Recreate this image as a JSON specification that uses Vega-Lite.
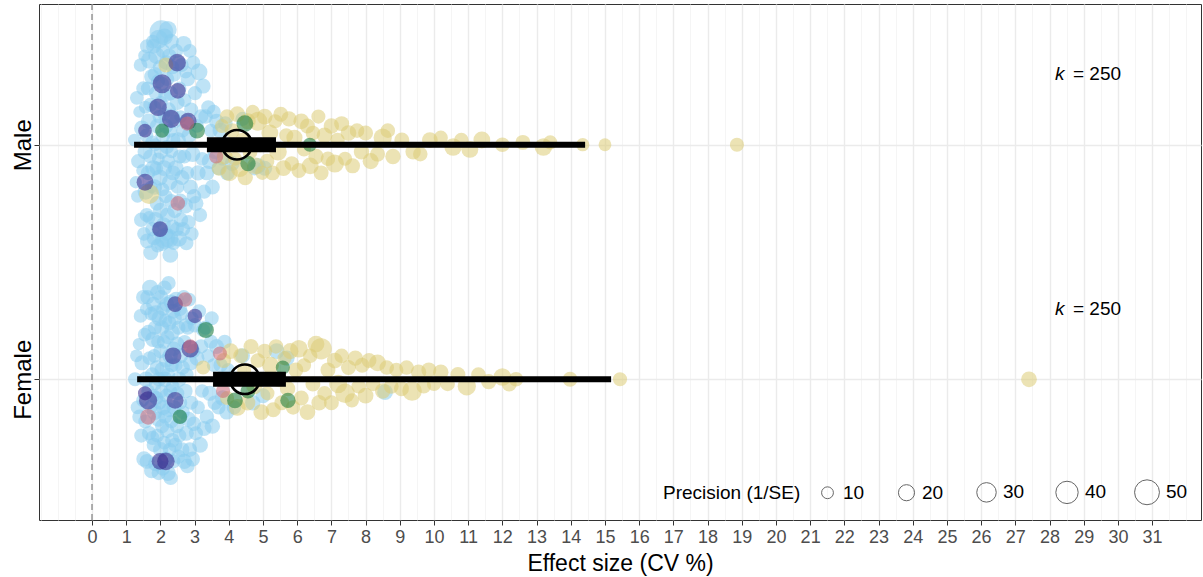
{
"$schema":"https://vega.github.io/schema/vega-lite/v6.json",
"width":1162,"height":516,
"autosize":{"type":"none"},
"padding":{"left":39,"top":4,"right":2,"bottom":57},
"background":"white",
"config":{"view":{"stroke":"#333333","strokeWidth":1},"font":"Liberation Sans"},
"resolve":{"axis":{"x":"independent"}},
"datasets":{
"zero":[{"x":0}],
"sum":[{"g":"Male","y":2,"est":4.24,"cil":3.36,"ciu":5.38,"pil":1.23,"piu":14.42},{"g":"Female","y":1,"est":4.47,"cil":3.54,"ciu":5.67,"pil":1.32,"piu":15.18}],
"klab":[{"x":28.16,"y":2.3,"lk":"k","lt":"= 250"},{"x":28.16,"y":1.3,"lk":"k","lt":"= 250"}],
"pts":[
{"x":1.24,"y":2.02,"p":12,"c":"b"},{"x":1.28,"y":1.84,"p":11,"c":"b"},{"x":1.31,"y":2.2,"p":14,"c":"b"},{"x":1.35,"y":1.93,"p":15,"c":"b"},{"x":1.38,"y":2.14,"p":10,"c":"b"},{"x":1.33,"y":1.78,"p":12,"c":"b"},
{"x":1.42,"y":2.34,"p":14,"c":"b"},{"x":1.44,"y":1.68,"p":16,"c":"b"},{"x":1.46,"y":2.07,"p":19,"c":"b"},{"x":1.48,"y":1.89,"p":12,"c":"b"},{"x":1.5,"y":2.24,"p":15,"c":"b"},{"x":1.52,"y":1.62,"p":14,"c":"b"},{"x":1.53,"y":2.38,"p":11,"c":"b"},{"x":1.55,"y":1.97,"p":17,"c":"b"},{"x":1.56,"y":2.16,"p":12,"c":"b"},{"x":1.57,"y":1.8,"p":20,"c":"b"},{"x":1.59,"y":2.04,"p":14,"c":"b"},{"x":1.6,"y":1.7,"p":15,"c":"b"},
{"x":1.61,"y":2.42,"p":15,"c":"b"},{"x":1.62,"y":1.59,"p":17,"c":"b"},{"x":1.63,"y":2.24,"p":14,"c":"b"},{"x":1.64,"y":1.88,"p":16,"c":"b"},{"x":1.66,"y":2.1,"p":19,"c":"b"},{"x":1.67,"y":1.69,"p":12,"c":"b"},{"x":1.68,"y":2.36,"p":22,"c":"b"},{"x":1.7,"y":1.95,"p":14,"c":"b"},{"x":1.71,"y":2.17,"p":15,"c":"b"},{"x":1.72,"y":1.54,"p":17,"c":"b"},{"x":1.73,"y":1.82,"p":12,"c":"b"},{"x":1.75,"y":2.29,"p":18,"c":"b"},{"x":1.76,"y":2.01,"p":14,"c":"b"},{"x":1.77,"y":1.64,"p":16,"c":"b"},{"x":1.78,"y":2.44,"p":14,"c":"b"},{"x":1.79,"y":1.9,"p":19,"c":"b"},
{"x":1.8,"y":2.42,"p":17,"c":"b"},{"x":1.81,"y":1.6,"p":15,"c":"b"},{"x":1.82,"y":2.16,"p":14,"c":"b"},{"x":1.83,"y":1.82,"p":18,"c":"b"},{"x":1.84,"y":2.3,"p":16,"c":"b"},{"x":1.85,"y":2.0,"p":12,"c":"b"},{"x":1.86,"y":1.68,"p":19,"c":"b"},{"x":1.87,"y":2.22,"p":15,"c":"b"},{"x":1.88,"y":1.9,"p":14,"c":"b"},{"x":1.89,"y":2.38,"p":22,"c":"b"},{"x":1.9,"y":1.75,"p":16,"c":"b"},{"x":1.91,"y":2.08,"p":17,"c":"b"},{"x":1.92,"y":1.57,"p":14,"c":"b"},{"x":1.93,"y":2.27,"p":15,"c":"b"},{"x":1.94,"y":1.94,"p":12,"c":"b"},{"x":1.95,"y":2.45,"p":28,"c":"b"},{"x":1.96,"y":1.64,"p":17,"c":"b"},{"x":1.97,"y":2.12,"p":14,"c":"b"},{"x":1.98,"y":1.86,"p":20,"c":"b"},{"x":1.99,"y":2.33,"p":16,"c":"b"},
{"x":2.0,"y":1.72,"p":18,"c":"b"},{"x":2.01,"y":2.18,"p":14,"c":"b"},{"x":2.02,"y":1.97,"p":16,"c":"b"},{"x":2.03,"y":2.48,"p":45,"c":"b"},{"x":2.04,"y":1.58,"p":19,"c":"b"},{"x":2.05,"y":2.26,"p":15,"c":"b"},{"x":2.06,"y":1.81,"p":14,"c":"b"},{"x":2.07,"y":2.04,"p":17,"c":"b"},{"x":2.08,"y":2.4,"p":15,"c":"b"},{"x":2.09,"y":1.66,"p":16,"c":"b"},{"x":2.1,"y":2.13,"p":12,"c":"b"},{"x":2.11,"y":1.9,"p":19,"c":"b"},{"x":2.12,"y":2.46,"p":22,"c":"b"},{"x":2.13,"y":1.6,"p":34,"c":"b"},{"x":2.14,"y":2.21,"p":14,"c":"b"},{"x":2.15,"y":1.78,"p":15,"c":"b"},{"x":2.16,"y":2.08,"p":17,"c":"b"},{"x":2.17,"y":2.35,"p":16,"c":"b"},{"x":2.18,"y":1.62,"p":14,"c":"b"},{"x":2.19,"y":1.99,"p":15,"c":"b"},
{"x":2.2,"y":2.28,"p":15,"c":"b"},{"x":2.21,"y":1.7,"p":17,"c":"b"},{"x":2.22,"y":2.49,"p":24,"c":"b"},{"x":2.23,"y":1.93,"p":14,"c":"b"},{"x":2.24,"y":2.15,"p":16,"c":"b"},{"x":2.25,"y":1.6,"p":28,"c":"b"},{"x":2.26,"y":2.38,"p":15,"c":"b"},{"x":2.27,"y":1.84,"p":18,"c":"b"},{"x":2.28,"y":2.06,"p":14,"c":"b"},{"x":2.29,"y":1.53,"p":19,"c":"b"},{"x":2.3,"y":2.22,"p":16,"c":"b"},{"x":2.31,"y":1.76,"p":15,"c":"b"},{"x":2.32,"y":2.44,"p":17,"c":"b"},{"x":2.33,"y":1.97,"p":12,"c":"b"},{"x":2.34,"y":2.12,"p":20,"c":"b"},{"x":2.35,"y":1.65,"p":16,"c":"b"},{"x":2.36,"y":2.33,"p":14,"c":"b"},{"x":2.37,"y":1.88,"p":17,"c":"b"},{"x":2.38,"y":2.02,"p":15,"c":"b"},{"x":2.39,"y":1.58,"p":14,"c":"b"},
{"x":2.4,"y":2.3,"p":16,"c":"b"},{"x":2.42,"y":1.72,"p":17,"c":"b"},{"x":2.43,"y":2.1,"p":14,"c":"b"},{"x":2.45,"y":1.9,"p":19,"c":"b"},{"x":2.46,"y":2.4,"p":15,"c":"b"},{"x":2.48,"y":1.64,"p":15,"c":"b"},{"x":2.49,"y":2.18,"p":17,"c":"b"},{"x":2.5,"y":1.82,"p":14,"c":"b"},{"x":2.52,"y":2.02,"p":18,"c":"b"},{"x":2.53,"y":2.35,"p":16,"c":"b"},{"x":2.54,"y":1.6,"p":20,"c":"b"},{"x":2.56,"y":2.24,"p":14,"c":"b"},{"x":2.57,"y":1.95,"p":15,"c":"b"},{"x":2.58,"y":1.76,"p":17,"c":"b"},{"x":2.59,"y":2.12,"p":12,"c":"b"},{"x":2.6,"y":1.68,"p":16,"c":"b"},
{"x":2.62,"y":2.34,"p":15,"c":"b"},{"x":2.63,"y":1.86,"p":17,"c":"b"},{"x":2.65,"y":2.06,"p":14,"c":"b"},{"x":2.66,"y":1.64,"p":16,"c":"b"},{"x":2.68,"y":2.43,"p":19,"c":"b"},{"x":2.7,"y":1.95,"p":15,"c":"b"},{"x":2.71,"y":2.19,"p":14,"c":"b"},{"x":2.73,"y":1.74,"p":18,"c":"b"},{"x":2.74,"y":2.31,"p":12,"c":"b"},{"x":2.76,"y":1.58,"p":15,"c":"b"},{"x":2.77,"y":2.1,"p":17,"c":"b"},{"x":2.79,"y":1.88,"p":14,"c":"b"},
{"x":2.8,"y":2.28,"p":16,"c":"b"},{"x":2.82,"y":1.67,"p":15,"c":"b"},{"x":2.84,"y":2.04,"p":18,"c":"b"},{"x":2.86,"y":2.4,"p":14,"c":"b"},{"x":2.88,"y":1.82,"p":17,"c":"b"},{"x":2.9,"y":2.15,"p":15,"c":"b"},{"x":2.92,"y":1.62,"p":14,"c":"b"},{"x":2.94,"y":1.96,"p":19,"c":"b"},{"x":2.96,"y":2.35,"p":15,"c":"b"},{"x":2.98,"y":1.78,"p":16,"c":"b"},
{"x":3.01,"y":2.22,"p":15,"c":"b"},{"x":3.04,"y":1.75,"p":17,"c":"b"},{"x":3.07,"y":2.08,"p":14,"c":"b"},{"x":3.1,"y":1.88,"p":18,"c":"b"},{"x":3.13,"y":2.31,"p":22,"c":"b"},{"x":3.16,"y":1.7,"p":15,"c":"b"},{"x":3.19,"y":2.12,"p":16,"c":"b"},{"x":3.22,"y":1.94,"p":14,"c":"b"},{"x":3.25,"y":2.25,"p":17,"c":"b"},{"x":3.28,"y":1.8,"p":15,"c":"b"},
{"x":3.32,"y":2.12,"p":16,"c":"b"},{"x":3.36,"y":1.88,"p":17,"c":"b"},{"x":3.4,"y":2.16,"p":15,"c":"b"},{"x":3.44,"y":1.93,"p":19,"c":"b"},{"x":3.48,"y":2.06,"p":14,"c":"b"},{"x":3.52,"y":1.82,"p":17,"c":"b"},{"x":3.56,"y":2.14,"p":15,"c":"b"},{"x":3.59,"y":1.97,"p":16,"c":"b"},
{"x":3.64,"y":2.1,"p":17,"c":"b"},{"x":3.7,"y":1.9,"p":15,"c":"b"},{"x":3.76,"y":2.06,"p":19,"c":"b"},{"x":3.82,"y":1.94,"p":14,"c":"b"},{"x":3.9,"y":2.09,"p":16,"c":"b"},{"x":3.96,"y":1.88,"p":17,"c":"b"},
{"x":4.1,"y":1.92,"p":17,"c":"b"},{"x":4.4,"y":2.11,"p":15,"c":"b"},{"x":4.75,"y":1.9,"p":16,"c":"b"},{"x":4.85,"y":1.91,"p":19,"c":"b"},{"x":5.05,"y":1.9,"p":17,"c":"b"},
{"x":1.26,"y":1.0,"p":15,"c":"b"},{"x":1.3,"y":1.1,"p":12,"c":"b"},{"x":1.33,"y":0.88,"p":14,"c":"b"},{"x":1.37,"y":1.15,"p":11,"c":"b"},{"x":1.39,"y":0.84,"p":16,"c":"b"},
{"x":1.42,"y":1.27,"p":14,"c":"b"},{"x":1.44,"y":0.76,"p":15,"c":"b"},{"x":1.46,"y":1.07,"p":17,"c":"b"},{"x":1.48,"y":0.91,"p":12,"c":"b"},{"x":1.5,"y":1.35,"p":16,"c":"b"},{"x":1.52,"y":0.66,"p":18,"c":"b"},{"x":1.54,"y":1.19,"p":14,"c":"b"},{"x":1.56,"y":0.82,"p":15,"c":"b"},{"x":1.58,"y":1.0,"p":19,"c":"b"},{"x":1.59,"y":1.3,"p":12,"c":"b"},
{"x":1.61,"y":0.65,"p":17,"c":"b"},{"x":1.62,"y":1.35,"p":15,"c":"b"},{"x":1.64,"y":0.95,"p":14,"c":"b"},{"x":1.65,"y":1.2,"p":18,"c":"b"},{"x":1.67,"y":0.77,"p":16,"c":"b"},{"x":1.68,"y":1.09,"p":14,"c":"b"},{"x":1.7,"y":1.39,"p":20,"c":"b"},{"x":1.71,"y":0.88,"p":15,"c":"b"},{"x":1.73,"y":1.28,"p":14,"c":"b"},{"x":1.74,"y":0.61,"p":17,"c":"b"},{"x":1.76,"y":1.02,"p":16,"c":"b"},{"x":1.77,"y":0.75,"p":15,"c":"b"},{"x":1.78,"y":1.17,"p":18,"c":"b"},{"x":1.79,"y":0.93,"p":14,"c":"b"},
{"x":1.8,"y":1.32,"p":17,"c":"b"},{"x":1.81,"y":0.72,"p":16,"c":"b"},{"x":1.82,"y":1.1,"p":14,"c":"b"},{"x":1.83,"y":0.86,"p":19,"c":"b"},{"x":1.84,"y":1.22,"p":15,"c":"b"},{"x":1.85,"y":0.98,"p":12,"c":"b"},{"x":1.86,"y":0.64,"p":17,"c":"b"},{"x":1.87,"y":1.28,"p":22,"c":"b"},{"x":1.88,"y":0.92,"p":15,"c":"b"},{"x":1.9,"y":1.05,"p":16,"c":"b"},{"x":1.91,"y":0.76,"p":14,"c":"b"},{"x":1.92,"y":1.37,"p":17,"c":"b"},{"x":1.93,"y":1.16,"p":14,"c":"b"},{"x":1.94,"y":0.83,"p":18,"c":"b"},{"x":1.95,"y":0.6,"p":15,"c":"b"},{"x":1.96,"y":1.0,"p":16,"c":"b"},{"x":1.97,"y":1.26,"p":19,"c":"b"},{"x":1.98,"y":0.9,"p":14,"c":"b"},
{"x":2.0,"y":1.12,"p":15,"c":"b"},{"x":2.01,"y":0.7,"p":18,"c":"b"},{"x":2.02,"y":1.35,"p":16,"c":"b"},{"x":2.03,"y":0.95,"p":14,"c":"b"},{"x":2.04,"y":1.22,"p":17,"c":"b"},{"x":2.05,"y":0.8,"p":15,"c":"b"},{"x":2.06,"y":1.04,"p":19,"c":"b"},{"x":2.07,"y":0.62,"p":16,"c":"b"},{"x":2.08,"y":1.3,"p":14,"c":"b"},{"x":2.09,"y":0.88,"p":17,"c":"b"},{"x":2.1,"y":1.16,"p":15,"c":"b"},{"x":2.11,"y":0.73,"p":14,"c":"b"},{"x":2.12,"y":1.39,"p":16,"c":"b"},{"x":2.13,"y":1.0,"p":18,"c":"b"},{"x":2.14,"y":0.84,"p":15,"c":"b"},{"x":2.15,"y":1.25,"p":14,"c":"b"},{"x":2.16,"y":0.66,"p":17,"c":"b"},{"x":2.17,"y":1.08,"p":16,"c":"b"},{"x":2.18,"y":0.93,"p":15,"c":"b"},{"x":2.19,"y":1.32,"p":17,"c":"b"},
{"x":2.2,"y":0.78,"p":16,"c":"b"},{"x":2.21,"y":1.18,"p":15,"c":"b"},{"x":2.22,"y":0.6,"p":19,"c":"b"},{"x":2.23,"y":1.02,"p":14,"c":"b"},{"x":2.24,"y":1.41,"p":15,"c":"b"},{"x":2.25,"y":0.87,"p":17,"c":"b"},{"x":2.26,"y":1.24,"p":16,"c":"b"},{"x":2.27,"y":0.7,"p":14,"c":"b"},{"x":2.28,"y":1.1,"p":18,"c":"b"},{"x":2.29,"y":0.95,"p":15,"c":"b"},{"x":2.3,"y":0.58,"p":16,"c":"b"},{"x":2.31,"y":1.33,"p":17,"c":"b"},{"x":2.32,"y":0.82,"p":14,"c":"b"},{"x":2.33,"y":1.06,"p":15,"c":"b"},{"x":2.34,"y":1.2,"p":19,"c":"b"},{"x":2.35,"y":0.74,"p":16,"c":"b"},{"x":2.36,"y":0.97,"p":14,"c":"b"},{"x":2.37,"y":1.29,"p":17,"c":"b"},{"x":2.38,"y":0.65,"p":15,"c":"b"},{"x":2.39,"y":1.13,"p":16,"c":"b"},
{"x":2.4,"y":0.88,"p":17,"c":"b"},{"x":2.42,"y":1.26,"p":15,"c":"b"},{"x":2.43,"y":0.72,"p":16,"c":"b"},{"x":2.45,"y":1.06,"p":14,"c":"b"},{"x":2.46,"y":1.34,"p":18,"c":"b"},{"x":2.48,"y":0.8,"p":15,"c":"b"},{"x":2.49,"y":1.15,"p":17,"c":"b"},{"x":2.5,"y":0.94,"p":14,"c":"b"},{"x":2.52,"y":0.67,"p":16,"c":"b"},{"x":2.53,"y":1.22,"p":15,"c":"b"},{"x":2.54,"y":1.0,"p":19,"c":"b"},{"x":2.56,"y":0.76,"p":14,"c":"b"},{"x":2.57,"y":1.3,"p":16,"c":"b"},{"x":2.58,"y":0.9,"p":15,"c":"b"},{"x":2.59,"y":1.1,"p":17,"c":"b"},{"x":2.6,"y":0.84,"p":14,"c":"b"},
{"x":2.62,"y":1.28,"p":15,"c":"b"},{"x":2.63,"y":0.7,"p":17,"c":"b"},{"x":2.65,"y":1.05,"p":16,"c":"b"},{"x":2.66,"y":0.86,"p":14,"c":"b"},{"x":2.68,"y":1.35,"p":15,"c":"b"},{"x":2.7,"y":0.65,"p":18,"c":"b"},{"x":2.71,"y":1.16,"p":14,"c":"b"},{"x":2.73,"y":0.95,"p":16,"c":"b"},{"x":2.74,"y":1.23,"p":15,"c":"b"},{"x":2.76,"y":0.77,"p":17,"c":"b"},{"x":2.77,"y":1.02,"p":14,"c":"b"},{"x":2.79,"y":0.63,"p":16,"c":"b"},
{"x":2.8,"y":1.22,"p":15,"c":"b"},{"x":2.82,"y":0.83,"p":17,"c":"b"},{"x":2.84,"y":1.34,"p":14,"c":"b"},{"x":2.86,"y":0.7,"p":16,"c":"b"},{"x":2.88,"y":1.07,"p":18,"c":"b"},{"x":2.9,"y":0.9,"p":15,"c":"b"},{"x":2.92,"y":1.26,"p":14,"c":"b"},{"x":2.94,"y":0.66,"p":17,"c":"b"},{"x":2.96,"y":1.12,"p":15,"c":"b"},{"x":2.98,"y":0.81,"p":16,"c":"b"},
{"x":3.01,"y":1.23,"p":16,"c":"b"},{"x":3.04,"y":0.77,"p":15,"c":"b"},{"x":3.07,"y":1.09,"p":17,"c":"b"},{"x":3.1,"y":0.88,"p":14,"c":"b"},{"x":3.13,"y":1.29,"p":15,"c":"b"},{"x":3.16,"y":0.72,"p":19,"c":"b"},{"x":3.19,"y":1.14,"p":16,"c":"b"},{"x":3.22,"y":0.95,"p":14,"c":"b"},{"x":3.25,"y":1.21,"p":15,"c":"b"},{"x":3.28,"y":0.79,"p":17,"c":"b"},
{"x":3.32,"y":1.22,"p":15,"c":"b"},{"x":3.36,"y":0.84,"p":16,"c":"b"},{"x":3.4,"y":1.1,"p":14,"c":"b"},{"x":3.44,"y":0.94,"p":17,"c":"b"},{"x":3.48,"y":1.16,"p":15,"c":"b"},{"x":3.52,"y":0.8,"p":18,"c":"b"},{"x":3.56,"y":1.06,"p":14,"c":"b"},{"x":3.59,"y":0.9,"p":16,"c":"b"},{"x":3.5,"y":1.26,"p":15,"c":"b"},
{"x":3.64,"y":1.14,"p":17,"c":"b"},{"x":3.7,"y":0.88,"p":15,"c":"b"},{"x":3.76,"y":1.06,"p":16,"c":"b"},{"x":3.82,"y":0.92,"p":18,"c":"b"},{"x":3.88,"y":1.16,"p":15,"c":"b"},{"x":3.94,"y":0.86,"p":17,"c":"b"},{"x":3.98,"y":1.04,"p":14,"c":"b"},
{"x":4.15,"y":0.88,"p":16,"c":"b"},{"x":4.4,"y":1.1,"p":17,"c":"b"},{"x":4.7,"y":0.9,"p":18,"c":"b"},{"x":5.0,"y":0.93,"p":17,"c":"b"},{"x":5.4,"y":1.12,"p":19,"c":"b"},{"x":5.7,"y":1.09,"p":18,"c":"b"},{"x":8.57,"y":0.945,"p":19,"c":"b"},
{"x":1.67,"y":1.79,"p":32,"c":"y"},{"x":2.16,"y":2.34,"p":17,"c":"y"},
{"x":3.72,"y":1.9,"p":17,"c":"y"},{"x":3.8,"y":2.08,"p":15,"c":"y"},{"x":3.88,"y":1.95,"p":19,"c":"y"},{"x":3.95,"y":2.12,"p":16,"c":"y"},
{"x":4.02,"y":1.88,"p":22,"c":"y"},{"x":4.1,"y":2.06,"p":17,"c":"y"},{"x":4.18,"y":1.94,"p":15,"c":"y"},{"x":4.25,"y":2.13,"p":19,"c":"y"},{"x":4.32,"y":1.9,"p":24,"c":"y"},{"x":4.4,"y":2.02,"p":16,"c":"y"},{"x":4.48,"y":1.86,"p":18,"c":"y"},{"x":4.55,"y":2.1,"p":20,"c":"y"},{"x":4.62,"y":1.97,"p":17,"c":"y"},{"x":4.7,"y":2.14,"p":15,"c":"y"},{"x":4.78,"y":1.91,"p":22,"c":"y"},{"x":4.85,"y":2.1,"p":28,"c":"y"},{"x":4.92,"y":2.0,"p":17,"c":"y"},{"x":4.98,"y":1.88,"p":15,"c":"y"},
{"x":5.05,"y":2.12,"p":19,"c":"y"},{"x":5.12,"y":1.93,"p":16,"c":"y"},{"x":5.2,"y":2.05,"p":22,"c":"y"},{"x":5.28,"y":1.88,"p":17,"c":"y"},{"x":5.36,"y":2.1,"p":15,"c":"y"},{"x":5.44,"y":1.97,"p":24,"c":"y"},{"x":5.52,"y":2.13,"p":17,"c":"y"},{"x":5.6,"y":1.9,"p":19,"c":"y"},{"x":5.68,"y":2.04,"p":15,"c":"y"},{"x":5.76,"y":2.11,"p":18,"c":"y"},{"x":5.84,"y":1.92,"p":16,"c":"y"},{"x":5.92,"y":2.03,"p":20,"c":"y"},
{"x":6.05,"y":1.89,"p":17,"c":"y"},{"x":6.12,"y":2.1,"p":19,"c":"y"},{"x":6.2,"y":1.98,"p":15,"c":"y"},{"x":6.3,"y":2.08,"p":17,"c":"y"},{"x":6.38,"y":1.91,"p":22,"c":"y"},{"x":6.46,"y":2.05,"p":16,"c":"y"},{"x":6.55,"y":1.95,"p":18,"c":"y"},{"x":6.62,"y":2.12,"p":15,"c":"y"},{"x":6.7,"y":1.88,"p":17,"c":"y"},{"x":6.8,"y":2.04,"p":19,"c":"y"},{"x":6.9,"y":1.94,"p":16,"c":"y"},
{"x":7.0,"y":2.08,"p":18,"c":"y"},{"x":7.1,"y":1.92,"p":26,"c":"y"},{"x":7.18,"y":2.02,"p":16,"c":"y"},{"x":7.3,"y":2.09,"p":17,"c":"y"},{"x":7.4,"y":1.94,"p":15,"c":"y"},{"x":7.5,"y":2.05,"p":19,"c":"y"},{"x":7.62,"y":1.91,"p":17,"c":"y"},{"x":7.75,"y":2.06,"p":16,"c":"y"},{"x":7.88,"y":1.97,"p":18,"c":"y"},
{"x":8.0,"y":2.05,"p":17,"c":"y"},{"x":8.15,"y":1.93,"p":20,"c":"y"},{"x":8.35,"y":1.96,"p":17,"c":"y"},{"x":8.5,"y":2.03,"p":26,"c":"y"},{"x":8.65,"y":2.06,"p":16,"c":"y"},{"x":8.8,"y":1.95,"p":18,"c":"y"},
{"x":9.06,"y":2.02,"p":17,"c":"y"},{"x":9.39,"y":1.97,"p":18,"c":"y"},{"x":9.6,"y":1.96,"p":16,"c":"y"},{"x":9.88,"y":2.02,"p":19,"c":"y"},{"x":10.2,"y":2.03,"p":15,"c":"y"},{"x":10.56,"y":1.99,"p":24,"c":"y"},{"x":10.8,"y":2.02,"p":16,"c":"y"},
{"x":11.05,"y":1.98,"p":22,"c":"y"},{"x":11.4,"y":2.02,"p":22,"c":"y"},{"x":12.0,"y":2.0,"p":16,"c":"y"},{"x":12.6,"y":2.01,"p":17,"c":"y"},{"x":13.2,"y":1.99,"p":24,"c":"y"},{"x":13.4,"y":2.01,"p":15,"c":"y"},{"x":14.35,"y":2.0,"p":13,"c":"y"},{"x":15.0,"y":2.0,"p":12,"c":"y"},{"x":18.86,"y":2.0,"p":15,"c":"y"},
{"x":3.25,"y":1.05,"p":15,"c":"y"},
{"x":3.85,"y":1.08,"p":17,"c":"y"},{"x":3.95,"y":0.92,"p":15,"c":"y"},{"x":4.05,"y":1.12,"p":19,"c":"y"},{"x":4.15,"y":1.0,"p":16,"c":"y"},{"x":4.25,"y":0.88,"p":22,"c":"y"},{"x":4.35,"y":1.1,"p":17,"c":"y"},{"x":4.45,"y":1.04,"p":15,"c":"y"},{"x":4.55,"y":0.9,"p":18,"c":"y"},{"x":4.65,"y":1.14,"p":17,"c":"y"},{"x":4.75,"y":0.97,"p":20,"c":"y"},{"x":4.85,"y":1.08,"p":16,"c":"y"},{"x":4.95,"y":0.86,"p":19,"c":"y"},
{"x":5.05,"y":1.12,"p":17,"c":"y"},{"x":5.13,"y":0.94,"p":15,"c":"y"},{"x":5.22,"y":1.06,"p":22,"c":"y"},{"x":5.3,"y":0.87,"p":17,"c":"y"},{"x":5.38,"y":1.14,"p":16,"c":"y"},{"x":5.47,"y":1.0,"p":19,"c":"y"},{"x":5.55,"y":0.9,"p":17,"c":"y"},{"x":5.63,"y":1.09,"p":15,"c":"y"},{"x":5.72,"y":0.96,"p":18,"c":"y"},{"x":5.8,"y":1.12,"p":20,"c":"y"},{"x":5.88,"y":0.88,"p":16,"c":"y"},{"x":5.96,"y":1.04,"p":17,"c":"y"},
{"x":6.05,"y":1.13,"p":24,"c":"y"},{"x":6.12,"y":0.92,"p":17,"c":"y"},{"x":6.2,"y":1.06,"p":15,"c":"y"},{"x":6.3,"y":0.86,"p":19,"c":"y"},{"x":6.38,"y":1.1,"p":16,"c":"y"},{"x":6.46,"y":0.98,"p":17,"c":"y"},{"x":6.55,"y":1.15,"p":22,"c":"y"},{"x":6.64,"y":0.9,"p":18,"c":"y"},{"x":6.7,"y":1.13,"p":36,"c":"y"},{"x":6.8,"y":0.94,"p":16,"c":"y"},{"x":6.9,"y":1.04,"p":17,"c":"y"},
{"x":7.0,"y":0.9,"p":17,"c":"y"},{"x":7.1,"y":1.08,"p":19,"c":"y"},{"x":7.2,"y":0.98,"p":26,"c":"y"},{"x":7.3,"y":1.1,"p":16,"c":"y"},{"x":7.4,"y":0.94,"p":30,"c":"y"},{"x":7.5,"y":1.05,"p":17,"c":"y"},{"x":7.6,"y":0.91,"p":15,"c":"y"},{"x":7.7,"y":1.09,"p":18,"c":"y"},{"x":7.8,"y":0.97,"p":16,"c":"y"},{"x":7.9,"y":1.06,"p":17,"c":"y"},
{"x":8.0,"y":0.93,"p":19,"c":"y"},{"x":8.1,"y":1.08,"p":17,"c":"y"},{"x":8.22,"y":0.98,"p":16,"c":"y"},{"x":8.35,"y":1.07,"p":22,"c":"y"},{"x":8.5,"y":0.95,"p":18,"c":"y"},{"x":8.62,"y":1.05,"p":16,"c":"y"},{"x":8.75,"y":0.97,"p":17,"c":"y"},{"x":8.9,"y":1.04,"p":15,"c":"y"},
{"x":9.05,"y":0.96,"p":17,"c":"y"},{"x":9.2,"y":1.05,"p":16,"c":"y"},{"x":9.36,"y":0.95,"p":30,"c":"y"},{"x":9.55,"y":1.03,"p":18,"c":"y"},{"x":9.7,"y":0.97,"p":16,"c":"y"},{"x":9.85,"y":1.04,"p":17,"c":"y"},{"x":10.0,"y":0.98,"p":15,"c":"y"},{"x":10.2,"y":1.03,"p":18,"c":"y"},{"x":10.4,"y":0.98,"p":16,"c":"y"},
{"x":10.7,"y":1.02,"p":17,"c":"y"},{"x":10.96,"y":0.97,"p":26,"c":"y"},{"x":11.3,"y":1.02,"p":16,"c":"y"},{"x":11.6,"y":0.99,"p":18,"c":"y"},{"x":12.0,"y":1.01,"p":24,"c":"y"},{"x":12.2,"y":0.98,"p":17,"c":"y"},{"x":12.4,"y":1.0,"p":16,"c":"y"},
{"x":13.98,"y":1.0,"p":17,"c":"y"},{"x":15.44,"y":1.0,"p":15,"c":"y"},{"x":27.4,"y":1.0,"p":19,"c":"y"},
{"x":2.49,"y":2.35,"p":24,"c":"u"},{"x":2.05,"y":2.26,"p":28,"c":"u"},{"x":2.51,"y":2.23,"p":19,"c":"u"},{"x":1.93,"y":2.16,"p":24,"c":"u"},{"x":2.31,"y":2.11,"p":26,"c":"u"},{"x":2.81,"y":2.1,"p":22,"c":"u"},{"x":1.55,"y":2.06,"p":14,"c":"u"},{"x":1.55,"y":1.84,"p":22,"c":"u"},{"x":1.99,"y":1.64,"p":19,"c":"u"},
{"x":2.43,"y":1.32,"p":19,"c":"u"},{"x":3.01,"y":1.27,"p":16,"c":"u"},{"x":2.37,"y":1.1,"p":22,"c":"u"},{"x":2.87,"y":1.13,"p":24,"c":"u"},{"x":1.55,"y":0.94,"p":15,"c":"u"},{"x":1.64,"y":0.91,"p":26,"c":"u"},{"x":2.43,"y":0.91,"p":22,"c":"u"},{"x":1.99,"y":0.65,"p":22,"c":"u"},{"x":2.16,"y":0.65,"p":24,"c":"u"},
{"x":3.07,"y":2.06,"p":19,"c":"g"},{"x":2.05,"y":2.06,"p":15,"c":"g"},{"x":4.47,"y":2.09,"p":22,"c":"g"},{"x":4.56,"y":1.92,"p":18,"c":"g"},{"x":6.37,"y":2.0,"p":15,"c":"g"},
{"x":3.33,"y":1.21,"p":20,"c":"g"},{"x":2.57,"y":0.84,"p":16,"c":"g"},{"x":4.18,"y":0.91,"p":19,"c":"g"},{"x":5.73,"y":0.91,"p":18,"c":"g"},{"x":5.58,"y":1.05,"p":15,"c":"g"},{"x":4.56,"y":0.95,"p":17,"c":"g"},
{"x":2.51,"y":1.75,"p":16,"c":"r"},{"x":3.63,"y":1.95,"p":15,"c":"r"},{"x":2.78,"y":2.09,"p":15,"c":"r"},
{"x":2.72,"y":1.34,"p":16,"c":"r"},{"x":1.64,"y":0.84,"p":19,"c":"r"},{"x":3.74,"y":1.11,"p":15,"c":"r"},{"x":3.83,"y":0.95,"p":15,"c":"r"},{"x":2.87,"y":1.14,"p":15,"c":"r"}
]},
"layer":[
{"data":{"name":"zero"},"mark":{"type":"rule","color":"#7F7F7F","strokeDash":[6,4],"strokeWidth":1.2},
 "encoding":{"x":{"field":"x","type":"quantitative","scale":{"domain":[-1.55,32.43],"nice":false,"zero":false},
  "axis":{"orient":"top","title":null,"labels":false,"ticks":false,"domain":false,"grid":true,"gridColor":"#F3F3F3","gridWidth":0.8,
   "values":[-1.5,-1,-0.5,0.5,1.5,2.5,3.5,4.5,5.5,6.5,7.5,8.5,9.5,10.5,11.5,12.5,13.5,14.5,15.5,16.5,17.5,18.5,19.5,20.5,21.5,22.5,23.5,24.5,25.5,26.5,27.5,28.5,29.5,30.5,31.5,32]}}}},
{"data":{"name":"pts"},
 "mark":{"type":"circle","opacity":0.55},
 "encoding":{
  "x":{"field":"x","type":"quantitative",
   "axis":{"orient":"bottom","title":"Effect size (CV %)","titleFontSize":23,"titleFontWeight":"normal","titleColor":"black","titlePadding":6,
    "values":[0,1,2,3,4,5,6,7,8,9,10,11,12,13,14,15,16,17,18,19,20,21,22,23,24,25,26,27,28,29,30,31],"format":"d",
    "labelFontSize":18,"labelColor":"#4D4D4D","labelPadding":3,"labelOverlap":false,"labelFlush":false,
    "tickColor":"#333333","tickSize":5,"tickWidth":1,"grid":true,"gridColor":"#EBEBEB","gridWidth":1.4,"domain":false}},
  "y":{"field":"y","type":"quantitative","scale":{"domain":[0.4,2.6],"nice":false,"zero":false},
   "axis":{"title":null,"values":[1,2],"labelExpr":"datum.value === 2 ? 'Male' : 'Female'",
    "labelAngle":270,"labelAlign":"center","labelBaseline":"alphabetic","labelFontSize":24,"labelColor":"black","labelPadding":4,
    "tickSize":5,"tickColor":"#333333","gridColor":"#EBEBEB","gridWidth":1.4,"domain":false}},
  "color":{"field":"c","type":"nominal","scale":{"domain":["b","y","u","g","r"],"range":["#88CCEE","#DDCC77","#332288","#117733","#CC6677"]},"legend":null},
  "size":{"field":"p","type":"quantitative","scale":{"domain":[10,50],"range":[140,620],"zero":false},
   "legend":{"title":"Precision (1/SE)","values":[10,20,30,40,50],"orient":"bottom-right","direction":"horizontal","titleOrient":"left",
    "titleFontSize":19,"titleFontWeight":"normal","titleColor":"black","titleBaseline":"middle","labelFontSize":19,"labelColor":"black",
    "symbolType":"circle","symbolFillColor":"transparent","symbolStrokeColor":"#666666","symbolStrokeWidth":1,"symbolOpacity":1,
    "gridAlign":"all","columnPadding":23,"labelOffset":6,"titlePadding":17,"offset":13,"padding":0,
    "encode":{"symbols":{"update":{"fill":{"value":"transparent"},"stroke":{"value":"#666666"},"strokeWidth":{"value":1},"opacity":{"value":1}}}}}}
 }},
{"data":{"name":"sum"},"mark":{"type":"rule","color":"black","strokeWidth":6},"encoding":{"x":{"field":"pil","type":"quantitative","axis":null},"x2":{"field":"piu"},"y":{"field":"y","type":"quantitative"}}},
{"data":{"name":"sum"},"mark":{"type":"rule","color":"black","strokeWidth":15},"encoding":{"x":{"field":"cil","type":"quantitative","axis":null},"x2":{"field":"ciu"},"y":{"field":"y","type":"quantitative"}}},
{"data":{"name":"sum"},"mark":{"type":"point","shape":"circle","filled":false,"stroke":"black","strokeWidth":2.7,"size":870,"opacity":1},"encoding":{"x":{"field":"est","type":"quantitative","axis":null},"y":{"field":"y","type":"quantitative"}}},
{"data":{"name":"klab"},"mark":{"type":"text","fontStyle":"italic","fontSize":19,"align":"left","baseline":"middle","color":"black"},"encoding":{"x":{"field":"x","type":"quantitative","axis":null},"y":{"field":"y","type":"quantitative"},"text":{"field":"lk"}}},
{"data":{"name":"klab"},"mark":{"type":"text","fontSize":19,"align":"left","baseline":"middle","color":"black","dx":18},"encoding":{"x":{"field":"x","type":"quantitative","axis":null},"y":{"field":"y","type":"quantitative"},"text":{"field":"lt"}}}
]
}
